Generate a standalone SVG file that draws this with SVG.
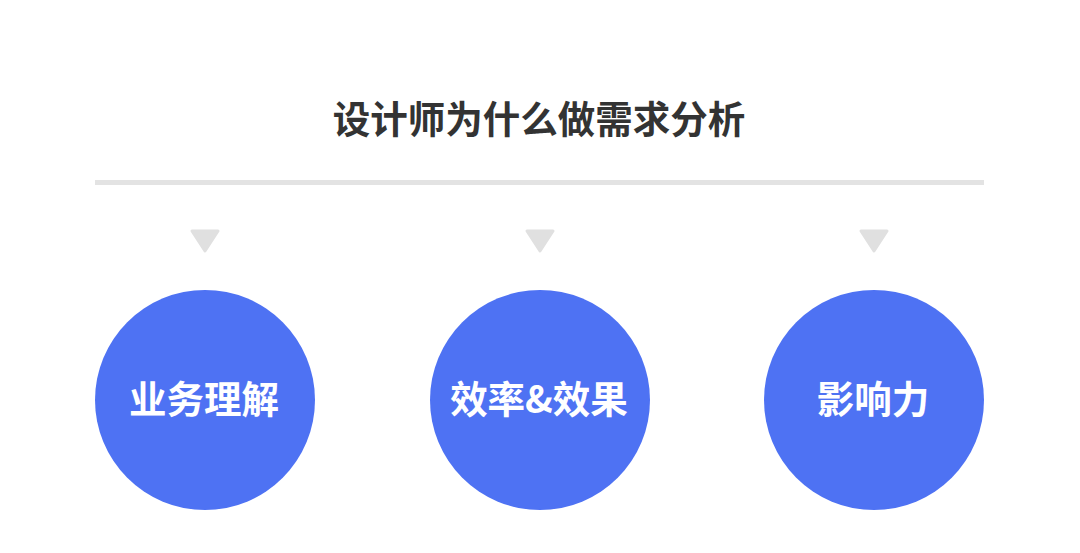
<svg xmlns="http://www.w3.org/2000/svg" width="1080" height="553" viewBox="0 0 1080 553">
<style>
.title{font-family:"Noto Sans CJK SC","Noto Sans",sans-serif;font-weight:bold;font-size:37.5px;fill:#333333;text-anchor:middle}
.lbl{font-family:"Noto Sans CJK SC","Noto Sans",sans-serif;font-weight:bold;font-size:37.5px;fill:#ffffff;text-anchor:middle}
.node{fill:#4e72f3}
.tri{fill:#e0e0e0;stroke:#e0e0e0;stroke-width:3;stroke-linejoin:round}
</style>
<rect width="1080" height="553" fill="#ffffff"/>
<g id="title"><text class="title" x="539" y="133">设计师为什么做需求分析</text></g>
<g id="connectors">
<rect x="95" y="180" width="889" height="5" fill="#e3e3e3"/>
<polygon class="tri" points="192,231 218,231 205,251"/>
<polygon class="tri" points="527,231 553,231 540,251"/>
<polygon class="tri" points="861,231 887,231 874,251"/>
</g>
<g id="node1"><circle class="node" cx="205" cy="400" r="110"/><text class="lbl" x="204" y="413">业务理解</text></g>
<g id="node2"><circle class="node" cx="540" cy="400" r="110"/><text class="lbl" x="539" y="413">效率&amp;效果</text></g>
<g id="node3"><circle class="node" cx="874" cy="400" r="110"/><text class="lbl" x="873" y="413">影响力</text></g>
</svg>
